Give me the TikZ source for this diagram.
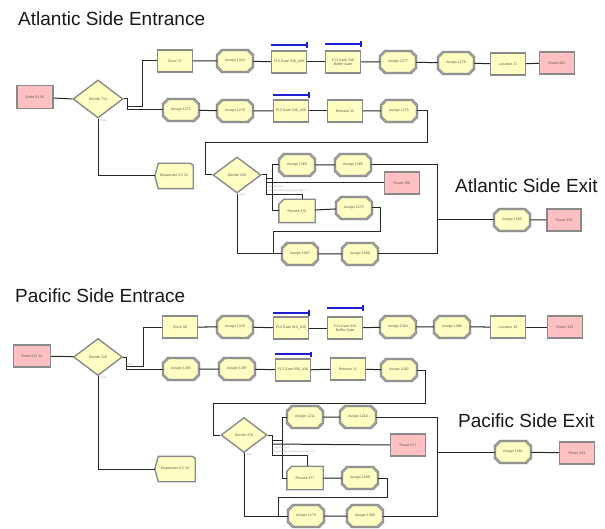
\documentclass[tikz,border=0pt]{standalone}
\usepackage{fontspec}
\setmainfont{Liberation Sans}
\usetikzlibrary{shapes.geometric,shapes.misc,backgrounds}
\definecolor{yel}{HTML}{FFFFC4}
\definecolor{pnk}{HTML}{FFC0C4}
\definecolor{bordc}{HTML}{8A8A8A}
\definecolor{bordd}{HTML}{606060}
\definecolor{txtc}{HTML}{5E5E46}
\definecolor{barc}{HTML}{1E1ED2}
\tikzset{
 lbl/.style={font=\fontsize{3.6}{4.2}\selectfont, text=txtc, align=center},
 asg/.style={chamfered rectangle, chamfered rectangle xsep=3.5pt, chamfered rectangle ysep=3.5pt,
   draw=bordd, line width=0.5pt, double=bordc!70, double distance=1.4pt, fill=yel,
   minimum width=36pt, minimum height=22pt, inner sep=0pt, lbl},
 modbox/.style={rectangle, draw=bordc, line width=1.4pt, fill=yel, minimum width=35pt,
   minimum height=22pt, inner sep=0pt, lbl},
 rte/.style={rectangle, draw=bordc, line width=1.4pt, fill=pnk, minimum width=35pt,
   minimum height=22pt, inner sep=0pt, lbl,
   path picture={\draw[bordd, line width=1.6pt] (path picture bounding box.north west) -- (path picture bounding box.south west);}},
 dec/.style={diamond, aspect=1.4, draw=bordc, line width=1.4pt, fill=yel, minimum width=48pt,
   minimum height=35pt, inner sep=0pt, lbl},
 ghost/.style={rectangle, minimum width=36pt, minimum height=23pt, inner sep=0pt, lbl},
 shp/.style={draw=bordc, line width=1.4pt, fill=yel},
 conn/.style={draw=black!85, line width=1pt},
 bluebar/.style={draw=barc, line width=1.3pt},
 ttl/.style={font=\fontsize{19}{22}\selectfont, anchor=base west, inner sep=0pt, text=black!90},
 tinyt/.style={font=\fontsize{2.4}{2.8}\selectfont, text=gray!75, inner sep=0pt, anchor=west}
}
\begin{document}
\begin{tikzpicture}[x=1pt,y=-1pt]
\useasboundingbox (0,0) rectangle (605,529);

% ---------------- titles
\node[ttl] (t1) at (18,26) {Atlantic Side Entrance};
\node[ttl] (t2) at (455,193) {Atlantic Side Exit};
\node[ttl] (t3) at (15,302) {Pacific Side Entrace};
\node[ttl] (t4) at (458,427) {Pacific Side Exit};

% ================= ATLANTIC =================
\node[rte, minimum width=36pt, minimum height=23pt] (enterA) at (35,97) {Enter 01 56};
\node[dec, minimum width=50pt, minimum height=38pt] (decA) at (98,99) {Decide 713};
\node[modbox] (storeA) at (175,61) {Store 37};
\node[asg] (a1344) at (235,61) {Assign 1344};
\node[modbox] (gateA1) at (289,62) {F13 Gate 346\_A36};
\node[modbox] (bufA) at (343,62) {F13 Gate 346\\Buffer Gate};
\node[asg] (a1277) at (398,62) {Assign 1277};
\node[asg] (a1278) at (456,63) {Assign 1278};
\node[modbox] (loc37) at (508,64) {Location 37};
\node[rte] (route002) at (557,63) {Route 002};

\node[asg] (a1271) at (181,110) {Assign 1271};
\node[asg] (a1276) at (235,111) {Assign 1276};
\node[modbox] (gateA2) at (291,111) {F13 Gate 346\_A36};
\node[modbox] (rel35) at (345,111) {Release 35};
\node[asg] (a1275) at (399,111) {Assign 1275};

\node[ghost, minimum width=38pt, minimum height=25pt] (dispA) at (174,176) {Dispatcher CC 31};
\node[dec, minimum width=48pt, minimum height=36pt] (decB) at (237,175) {Decide 256};
\node[asg] (a1360) at (297,165) {Assign 1360};
\node[asg] (a1366) at (353,165) {Assign 1366};
\node[rte] (route358) at (402,183) {Route 358};
\node[ghost] (rec476) at (297,211) {Record 476};
\node[asg] (a1273) at (354,208) {Assign 1273};
\node[asg] (a1367) at (300,254) {Assign 1367};
\node[asg] (a1368) at (360,254) {Assign 1368};
\node[asg] (a1365) at (512,220) {Assign 1365};
\node[rte, minimum width=34pt] (route335) at (564,220) {Route 335};

% ================= PACIFIC =================
\node[rte, minimum width=37pt] (enterP) at (32,356) {Enter 812 34};
\node[dec, minimum width=49pt, minimum height=37pt] (decP) at (98,357) {Decide 316};
\node[modbox] (storeP) at (180,327) {Store 38};
\node[asg] (a1320) at (235,327) {Assign 1320};
\node[modbox] (gateP1) at (291,328) {F13 Gate 810\_A36};
\node[modbox] (bufP) at (345,328) {F13 Gate 810\\Buffer Gate};
\node[asg] (a1384) at (398,327) {Assign 1384};
\node[asg] (a1386) at (452,327) {Assign 1386};
\node[modbox] (loc38) at (508,327) {Location 38};
\node[rte] (route323) at (565,327) {Route 323};

\node[asg] (a1383) at (181,369) {Assign 1383};
\node[asg] (a1387) at (237,369) {Assign 1387};
\node[modbox] (gateP2) at (293,370) {F13 Gate 036\_A36};
\node[modbox] (rel31) at (348,369) {Release 31};
\node[asg] (a1382) at (399,370) {Assign 1382};

\node[ghost, minimum width=40pt, minimum height=25pt] (dispP) at (175,469) {Dispatcher CC 34};
\node[dec, minimum width=46pt, minimum height=35pt] (decQ) at (244,435) {Decide 378};
\node[asg] (a1211) at (305,417) {Assign 1211};
\node[asg] (a1216) at (358,417) {Assign 1216};
\node[rte] (route617) at (408,445) {Route 617};
\node[ghost] (rec477) at (305,478) {Record 477};
\node[asg] (a1289) at (360,478) {Assign 1289};
\node[asg] (a1279) at (306,516) {Assign 1279};
\node[asg] (a1380) at (365,516) {Assign 1380};
\node[asg] (a1381) at (513,452) {Assign 1381};
\node[rte] (route333) at (577,453) {Route 333};

% ---------- special shapes on background
\begin{pgfonlayer}{background}
 \fill[white] (0,0) rectangle (605,529);
 \foreach \r in {rec476,rec477}{
  \draw[shp] ([xshift=5pt]\r.north west) -- (\r.north east) -- (\r.south east)
     -- (\r.south west) -- ([yshift=-5pt]\r.north west) -- cycle;
 }
 \foreach \d in {dispA,dispP}{
  \draw[shp] ([xshift=3.5pt]\d.north west) -- ([xshift=-3pt]\d.north east) -- ([yshift=-2pt]\d.north east)
     -- (\d.south east) -- ([xshift=3.5pt]\d.south west) -- (\d.west) -- cycle;
 }
\end{pgfonlayer}

% ---------- blue bars (bar above each gate, tick at right end)
\coordinate (bA1) at (271,45);  \coordinate (eA1) at (307,45);
\coordinate (bB1) at (325,44);  \coordinate (eB1) at (361,44);
\coordinate (bA2) at (273,95);  \coordinate (eA2) at (309,95);
\coordinate (bP1) at (273,313); \coordinate (eP1) at (309,313);
\coordinate (bQ1) at (327,308); \coordinate (eQ1) at (363,308);
\coordinate (bP2) at (275,354); \coordinate (eP2) at (311,354);
\foreach \s/\e in {bA1/eA1,bB1/eB1,bA2/eA2,bP1/eP1,bQ1/eQ1,bP2/eP2}{
  \draw[bluebar] (\s) -- (\e);
  \draw[bluebar] ([yshift=2.5pt]\e) -- ([yshift=-3pt]\e);
}

% ---------- Atlantic connectors
\draw[conn] (enterA) -- (decA.west);
\draw[conn] (decA.east) -- (127,99) |- (a1271.west);
\draw[conn] (127,107) -- (142,107) |- (storeA.west);
\draw[conn] (storeA) -- (a1344);
\draw[conn] (a1344) -- (gateA1);
\draw[conn] (gateA1) -- (bufA);
\draw[conn] (bufA) -- (a1277);
\draw[conn] (a1277) -- (a1278);
\draw[conn] (a1278) -- (loc37);
\draw[conn] (loc37) -- (route002);
\draw[conn] (a1271) -- (a1276);
\draw[conn] (a1276) -- (gateA2);
\draw[conn] (gateA2) -- (rel35);
\draw[conn] (rel35) -- (a1275);
\draw[conn] (a1275.east) -- (427,111) -- (427,143) -- (205,143) -- (205,175) -- (decB.west);
\draw[conn] (decA.south) |- (dispA.west);
\draw[conn] (decB.east) -- (266,175) -- (266,195);
\draw[conn] (266,183) -- (route358.west);
\draw[conn] (266,179) -- (272,179);
\draw[conn] (a1360.west) -| (272,211) -- (rec476.west);
\draw[conn] (266,195) -| ([xshift=5pt]rec476.north);
\draw[conn] (a1360) -- (a1366);
\draw[conn] (a1366.east) -| (437,254) -- (a1368.east);
\draw[conn] (437,220) -- (a1365.west);
\draw[conn] (a1365) -- (route335);
\draw[conn] (rec476) -- (a1273);
\draw[conn] (a1273.east) -- (380,208) -- (380,232) -- (273,232) -- (273,254);
\draw[conn] (decB.south) |- (a1367.west);
\draw[conn] (a1367) -- (a1368);

% ---------- Pacific connectors
\draw[conn] (enterP) -- (decP);
\draw[conn] (decP.east) -- (126,357) |- (a1383.west);
\draw[conn] (126,366) -- (143,366) |- (storeP.west);
\draw[conn] (storeP) -- (a1320);
\draw[conn] (a1320) -- (gateP1);
\draw[conn] (gateP1) -- (bufP);
\draw[conn] (bufP) -- (a1384);
\draw[conn] (a1384) -- (a1386);
\draw[conn] (a1386) -- (loc38);
\draw[conn] (loc38) -- (route323);
\draw[conn] (a1383) -- (a1387);
\draw[conn] (a1387) -- (gateP2);
\draw[conn] (gateP2) -- (rel31);
\draw[conn] (rel31) -- (a1382);
\draw[conn] (a1382.east) -- (425,370) -- (425,403) -- (213,403) -- (213,435) -- (decQ.west);
\draw[conn] (decP.south) |- (dispP.west);
\draw[conn] (decQ.east) -- (272,435) -- (272,455);
\draw[conn] (272,444) -- (route617.west);
\draw[conn] (272,440) -- (282,440);
\draw[conn] (a1211.west) -| (282,478) -- (rec477.west);
\draw[conn] (272,455) -| ([xshift=2pt]rec477.north);
\draw[conn] (a1211) -- (a1216);
\draw[conn] (a1216.east) -| (437,516) -- (a1380.east);
\draw[conn] (437,452) -- (a1381.west);
\draw[conn] (a1381) -- (route333);
\draw[conn] (rec477) -- (a1289);
\draw[conn] (a1289.east) -- (387,478) -- (387,497) -- (278,497) -- (278,516);
\draw[conn] (decQ.south) |- (a1279.west);
\draw[conn] (a1279) -- (a1380);

% ---------- tiny labels
\node[tinyt] (fA) at (101,121) {False};
\node[tinyt] (tA) at (129,107) {True};
\node[tinyt] (fB) at (239,195) {False};
\node[tinyt] (fP) at (101,378) {False};
\node[tinyt] (tP) at (128,365) {True};
\node[tinyt] (fQ) at (246,455) {False};
\node[tinyt] (cA1) at (268,187) {Capacity Free};
\node[tinyt] (cA2) at (268,191) {Capacity Free and Queue Length = 0};
\node[tinyt] (cP1) at (274,448) {Capacity Free};
\node[tinyt] (cP2) at (274,452) {Capacity Free and Queue Length = 0};
\node[tinyt] (oA) at (196,186) {1};
\node[tinyt] (oP) at (197,479) {1};
\end{tikzpicture}
\end{document}
